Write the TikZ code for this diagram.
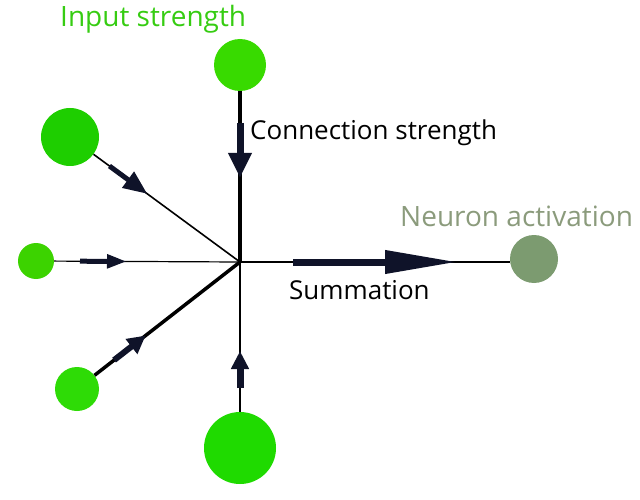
\documentclass[tikz,border=0pt]{standalone}
\usepackage{fontspec}
\setmainfont{Open Sans}
\usetikzlibrary{arrows.meta,calc}
\definecolor{arrcol}{HTML}{0F1329}
\definecolor{gA}{HTML}{38DA00}
\definecolor{gB}{HTML}{1ECE00}
\definecolor{gC}{HTML}{3CD300}
\definecolor{gD}{HTML}{2EDB06}
\definecolor{gE}{HTML}{1FDA00}
\definecolor{neur}{HTML}{7C9B70}
\definecolor{neurtxt}{HTML}{8B9B7C}
\definecolor{intxt}{HTML}{36CC12}
\tikzset{
  inp/.style={circle,inner sep=0pt,minimum size=#1},
  wire/.style={draw=black},
  arrshaft/.style={draw=arrcol,line cap=butt},
  lbl/.style={inner sep=0pt,anchor=base west},
}
\begin{document}
\begin{tikzpicture}[x=1pt,y=-1pt]
\useasboundingbox (0,0) rectangle (640,500);
% nodes
\coordinate (sum) at (240,262);
\node[inp=52pt,fill=gA] (top) at (240,65) {};
\node[inp=58pt,fill=gB] (ul) at (70,137) {};
\node[inp=36pt,fill=gC] (le) at (36,261) {};
\node[inp=44pt,fill=gD] (ll) at (77,389) {};
\node[inp=72pt,fill=gE] (bo) at (240,448) {};
\node[inp=48pt,fill=neur] (neu) at (534,259) {};
% wires
\draw[wire,line width=4.5pt] (top) -- (sum);
\draw[wire,line width=1.6pt] (ul) -- (sum);
\draw[wire,line width=1.2pt] (le) -- (sum);
\draw[wire,line width=3.5pt] (ll) -- (sum);
\draw[wire,line width=1.5pt] (bo) -- (sum);
\draw[wire,line width=1.2pt] (sum) -- (sum -| neu.west);
% arrows
\draw[arrshaft,line width=7pt,-{Triangle[length=25pt,width=22pt]}]
  ($(top.center)!58pt!(sum)$) -- ($(top.center)!113pt!(sum)$);
\draw[arrshaft,line width=5pt,-{Triangle[length=24pt,width=19pt]}]
  ($(ul.center)!49pt!(sum)$) -- ($(ul.center)!96pt!(sum)$);
\draw[arrshaft,line width=5pt,-{Triangle[length=20pt,width=13pt]}]
  ($(le.center)!44pt!(sum)$) -- ($(le.center)!91pt!(sum)$);
\draw[arrshaft,line width=6pt,-{Triangle[length=18pt,width=18pt]}]
  ($(ll.center)!47pt!(sum)$) -- ($(ll.center)!87pt!(sum)$);
\draw[arrshaft,line width=7pt,-{Triangle[length=18pt,width=17pt]}]
  ($(bo.center)!60pt!(sum)$) -- ($(bo.center)!97pt!(sum)$);
\draw[arrshaft,line width=7pt,-{Triangle[length=73pt,width=22pt]}]
  ($(sum)!53pt!(sum -| neu.west)$) -- ($(sum)!218pt!(sum -| neu.west)$);
% labels
\node[lbl,text=intxt,font=\fontsize{28}{32}\selectfont] (t1) at (60,27) {Input strength};
\node[lbl,text=black,font=\fontsize{26}{30}\selectfont] (t2) at (250,140) {Connection strength};
\node[lbl,text=neurtxt,font=\fontsize{28}{32}\selectfont] (t3) at (400,226) {Neuron activation};
\node[lbl,text=black,font=\fontsize{26}{30}\selectfont] (t4) at (289,299) {Summation};
\end{tikzpicture}
\end{document}
